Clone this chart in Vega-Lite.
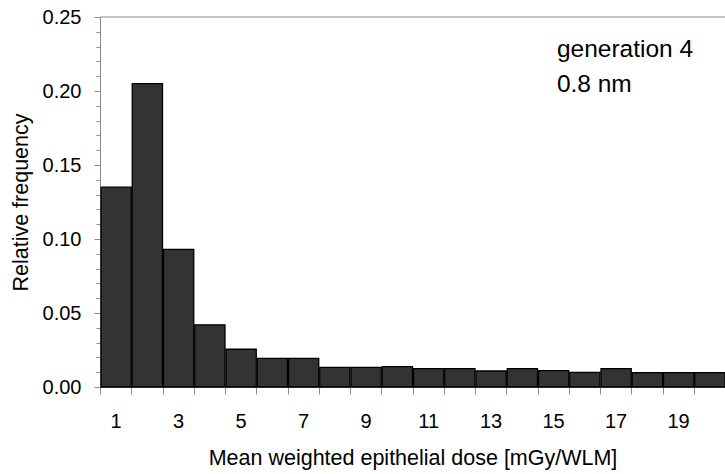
{
  "$schema": "https://vega.github.io/schema/vega-lite/v6.json",
  "width": 625,
  "height": 370,
  "autosize": {"type": "none"},
  "padding": {"left": 100, "top": 17, "right": 0, "bottom": 87},
  "background": "white",
  "config": {
    "view": {"stroke": null},
    "font": "Liberation Sans",
    "axis": {
      "domainColor": "#8c8c8c",
      "tickColor": "#8c8c8c",
      "labelColor": "#000000",
      "titleColor": "#000000",
      "labelFont": "Liberation Sans",
      "titleFont": "Liberation Sans",
      "titleFontWeight": "normal",
      "labelFontSize": 20,
      "titleFontSize": 21.5,
      "labelOverlap": false,
      "labelFlush": false,
      "grid": false
    }
  },
  "resolve": {"axis": {"x": "independent", "y": "independent"}},
  "layer": [
    {
      "data": {
        "values": [
          {"lo": 0.5, "hi": 1.5, "freq": 0.135},
          {"lo": 1.5, "hi": 2.5, "freq": 0.205},
          {"lo": 2.5, "hi": 3.5, "freq": 0.093},
          {"lo": 3.5, "hi": 4.5, "freq": 0.042},
          {"lo": 4.5, "hi": 5.5, "freq": 0.0255},
          {"lo": 5.5, "hi": 6.5, "freq": 0.0194},
          {"lo": 6.5, "hi": 7.5, "freq": 0.0194},
          {"lo": 7.5, "hi": 8.5, "freq": 0.0133},
          {"lo": 8.5, "hi": 9.5, "freq": 0.0133},
          {"lo": 9.5, "hi": 10.5, "freq": 0.0137},
          {"lo": 10.5, "hi": 11.5, "freq": 0.0124},
          {"lo": 11.5, "hi": 12.5, "freq": 0.0124},
          {"lo": 12.5, "hi": 13.5, "freq": 0.0108},
          {"lo": 13.5, "hi": 14.5, "freq": 0.0124},
          {"lo": 14.5, "hi": 15.5, "freq": 0.011},
          {"lo": 15.5, "hi": 16.5, "freq": 0.0099},
          {"lo": 16.5, "hi": 17.5, "freq": 0.0124},
          {"lo": 17.5, "hi": 18.5, "freq": 0.0097},
          {"lo": 18.5, "hi": 19.5, "freq": 0.0097},
          {"lo": 19.5, "hi": 20.5, "freq": 0.0097}
        ]
      },
      "mark": {"type": "bar", "fill": "#333333", "stroke": "#000000", "strokeWidth": 1.3},
      "encoding": {
        "x": {
          "field": "lo",
          "type": "quantitative",
          "bin": {"binned": true},
          "scale": {"domain": [0.5, 20.5], "nice": false, "zero": false},
          "axis": {
            "title": "Mean weighted epithelial dose [mGy/WLM]",
            "values": [0.5, 1, 1.5, 2, 2.5, 3, 3.5, 4, 4.5, 5, 5.5, 6, 6.5, 7, 7.5, 8, 8.5, 9, 9.5, 10, 10.5, 11, 11.5, 12, 12.5, 13, 13.5, 14, 14.5, 15, 15.5, 16, 16.5, 17, 17.5, 18, 18.5, 19, 19.5, 20, 20.5],
            "labelExpr": "datum.value % 2 == 1 ? datum.value : ''",
            "tickOpacity": {"condition": {"test": "datum.value % 1 == 0", "value": 0}, "value": 1},
            "tickSize": 7,
            "labelPadding": 17,
            "titlePadding": 16,
            "labelFlush": false,
            "labelOverlap": false
          }
        },
        "x2": {"field": "hi"},
        "y": {
          "field": "freq",
          "type": "quantitative",
          "scale": {"domain": [0, 0.25], "nice": false},
          "axis": {
            "title": "Relative frequency",
            "values": [0, 0.01, 0.02, 0.03, 0.04, 0.05, 0.06, 0.07, 0.08, 0.09, 0.1, 0.11, 0.12, 0.13, 0.14, 0.15, 0.16, 0.17, 0.18, 0.19, 0.2, 0.21, 0.22, 0.23, 0.24, 0.25],
            "labelExpr": "round(datum.value * 100) % 5 == 0 ? format(datum.value, '.2f') : ''",
            "tickSize": {"condition": {"test": "round(datum.value * 100) % 5 == 0", "value": 6}, "value": 4},
            "labelPadding": 13,
            "titlePadding": 10,
            "labelFlush": false,
            "labelOverlap": false
          }
        }
      }
    },
    {
      "data": {"values": [{"top": 0.25}]},
      "mark": {"type": "rule", "color": "#8c8c8c", "strokeWidth": 1},
      "encoding": {"y": {"field": "top", "type": "quantitative", "axis": null}}
    },
    {
      "data": {
        "values": [
          {"lx": 15.12, "ly": 0.2228, "label": "generation 4"},
          {"lx": 15.12, "ly": 0.1995, "label": "0.8 nm"}
        ]
      },
      "mark": {"type": "text", "align": "left", "baseline": "alphabetic", "fontSize": 24.5, "font": "Liberation Sans", "color": "#000000"},
      "encoding": {
        "x": {"field": "lx", "type": "quantitative", "axis": null},
        "y": {"field": "ly", "type": "quantitative", "axis": null},
        "text": {"field": "label"}
      }
    }
  ]
}
